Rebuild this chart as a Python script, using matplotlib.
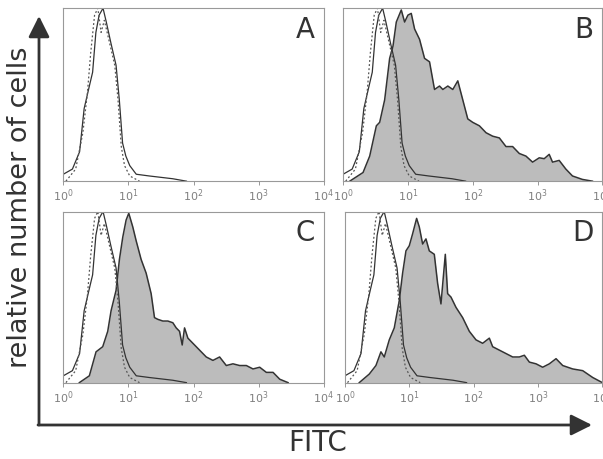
import numpy as np
import matplotlib.pyplot as plt
from matplotlib.patches import FancyArrowPatch

# control curves (log10 of FITC, relative count) - same in every panel
ctrl_x = [0, 0.14, 0.25, 0.32, 0.40, 0.45, 0.50, 0.55, 0.61, 0.66, 0.73, 0.81, 0.86,
          0.91, 0.96, 1.02, 1.12, 1.32, 1.68, 1.89]
ctrl_y = [0.04, 0.07, 0.17, 0.42, 0.55, 0.63, 0.86, 0.96, 1.0, 0.92, 0.80, 0.67, 0.47,
          0.22, 0.145, 0.09, 0.04, 0.03, 0.014, 0.0]
iso_x = [0.04, 0.19, 0.30, 0.37, 0.42, 0.48, 0.53, 0.58, 0.63, 0.71, 0.79, 0.84, 0.89,
         0.94, 1.02, 1.17]
iso_y = [0.0, 0.07, 0.28, 0.51, 0.74, 0.96, 1.0, 0.86, 0.93, 0.80, 0.67, 0.47, 0.20,
         0.09, 0.03, 0.0]

# stained samples, pixel readings converted to log10 positions
b_px = [90, 130, 150, 170, 180, 195, 210, 220, 230, 245, 255, 265, 275, 285, 300, 315,
        330, 345, 360, 370, 385, 400, 415, 430, 445, 460, 480, 500, 520, 540, 560, 580,
        600, 620, 640, 660, 675, 690, 700, 720, 740, 760, 790, 820]
b_y = [0, 0.05, 0.145, 0.32, 0.34, 0.47, 0.71, 0.78, 0.92, 0.99, 0.92, 0.96, 0.97, 0.88,
       0.82, 0.71, 0.69, 0.53, 0.55, 0.53, 0.55, 0.53, 0.58, 0.47, 0.36, 0.34, 0.32, 0.28,
       0.26, 0.25, 0.2, 0.2, 0.16, 0.145, 0.11, 0.135, 0.13, 0.155, 0.11, 0.12, 0.07, 0.03,
       0.01, 0]
c_px = [120, 150, 170, 190, 205, 215, 230, 240, 250, 260, 268, 280, 290, 305, 320, 335,
        345, 355, 370, 385, 400, 410, 420, 428, 435, 445, 460, 480, 500, 520, 540, 560,
        580, 600, 620, 640, 660, 680, 700, 720, 745]
c_y = [0, 0.04, 0.18, 0.21, 0.30, 0.42, 0.54, 0.72, 0.85, 0.95, 0.99, 0.91, 0.83, 0.72,
       0.64, 0.52, 0.38, 0.37, 0.36, 0.36, 0.35, 0.32, 0.30, 0.22, 0.32, 0.26, 0.23, 0.19,
       0.15, 0.13, 0.15, 0.10, 0.11, 0.10, 0.10, 0.08, 0.09, 0.06, 0.06, 0.02, 0]
d_px = [120, 150, 170, 185, 195, 210, 225, 240, 250, 260, 270, 280, 292, 300, 310, 320,
        330, 345, 355, 365, 378, 385, 395, 410, 430, 450, 470, 490, 510, 520, 540, 560,
        580, 600, 615, 630, 650, 670, 690, 710, 730, 760, 790, 820, 849]
d_y = [0, 0.05, 0.1, 0.18, 0.15, 0.25, 0.32, 0.48, 0.64, 0.77, 0.80, 0.87, 0.96, 0.91,
       0.81, 0.84, 0.77, 0.75, 0.58, 0.46, 0.75, 0.52, 0.50, 0.44, 0.38, 0.30, 0.25, 0.23,
       0.26, 0.21, 0.19, 0.17, 0.15, 0.15, 0.16, 0.12, 0.11, 0.09, 0.11, 0.14, 0.10, 0.08,
       0.07, 0.03, 0]
b_x = [(p - 70) / 195 for p in b_px]
c_x = [(p - 72) / 195 for p in c_px]
d_x = [(p - 77) / 193 for p in d_px]

panels = ['A', 'B', 'C', 'D']
stained = {'A': None, 'B': (b_x, b_y), 'C': (c_x, c_y), 'D': (d_x, d_y)}

fig = plt.figure(figsize=(6.03, 4.60), dpi=100)
boxes = {'A': [0.105, 0.604, 0.432, 0.376], 'B': [0.569, 0.604, 0.430, 0.376],
         'C': [0.105, 0.166, 0.432, 0.372], 'D': [0.572, 0.166, 0.427, 0.372]}

for p in panels:
    ax = fig.add_axes(boxes[p])
    ax.set_xscale('log')
    if stained[p] is not None:
        sx, sy = stained[p]
        sx = 10 ** np.array(sx)
        ax.fill_between(sx, sy, 0, color='#bcbcbc', lw=0)
        ax.plot(sx, sy, color='#333333', lw=1.1)
    ax.plot(10 ** np.array(ctrl_x), ctrl_y, color='#333333', lw=0.9)
    ax.plot(10 ** np.array(iso_x), iso_y, color='#555555', lw=0.9, ls=(0, (1.5, 1.8)))
    ax.set_xlim(1, 1e4)
    ax.set_ylim(0, 1.0)
    ax.set_yticks([])
    ax.set_xticks([1, 10, 100, 1000, 10000])
    ax.set_xticklabels(['$10^{%d}$' % i for i in range(5)])
    ax.xaxis.set_minor_locator(plt.NullLocator())
    ax.tick_params(axis='x', length=3, width=0.6, color='#888888', labelcolor='#808080',
                   labelsize=8, pad=1)
    for s in ax.spines.values():
        s.set_color('#999999')
        s.set_linewidth(0.8)
    ax.text(0.965, 0.96, p, transform=ax.transAxes, ha='right', va='top',
            fontsize=20, color='#333333')

# big axis arrows
ov = fig.add_axes([0, 0, 1, 1], facecolor='none')
ov.set_xlim(0, 603)
ov.set_ylim(460, 0)
ov.axis('off')
ov.add_patch(FancyArrowPatch((39, 426), (39, 17), arrowstyle='-|>,head_length=8,head_width=4',
                             color='#333333', lw=2, mutation_scale=1.6, shrinkA=0, shrinkB=0))
ov.add_patch(FancyArrowPatch((38, 426), (592, 426), arrowstyle='-|>,head_length=8,head_width=4',
                             color='#333333', lw=2, mutation_scale=1.6, shrinkA=0, shrinkB=0))
ov.text(20, 207, 'relative number of cells', rotation=90, ha='center', va='center',
        fontsize=19.5, color='#333333')
ov.text(318, 443, 'FITC', ha='center', va='center', fontsize=20, color='#333333')

fig.savefig('out.png', dpi=100)
